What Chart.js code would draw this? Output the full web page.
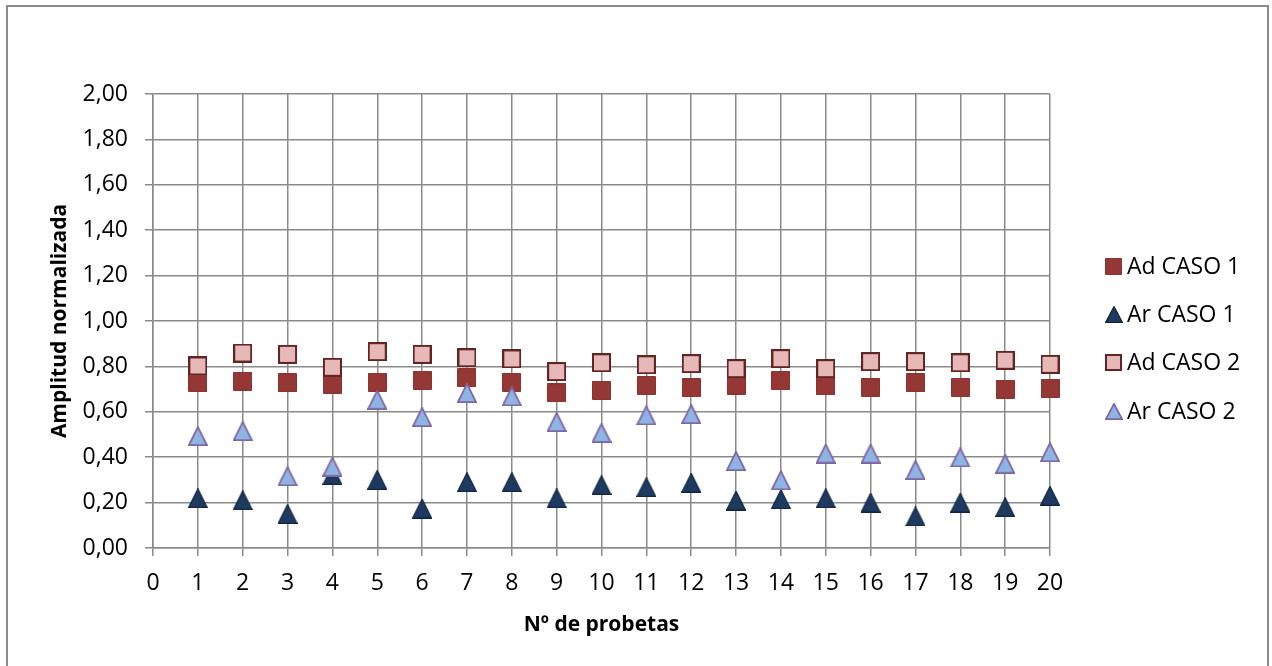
<!DOCTYPE html>
<html>
<head>
<meta charset="utf-8">
<title>Amplitud normalizada</title>
<script src="https://cdn.jsdelivr.net/npm/chart.js@4/dist/chart.umd.min.js"></script>
<style>
  html, body { margin: 0; padding: 0; background: #fff; }
  #wrap { width: 1272px; height: 666px; }
</style>
</head>
<body>
<div id="wrap"><canvas id="chart" width="1272" height="666"></canvas></div>
<script>
// Data
const probetas = [1, 2, 3, 4, 5, 6, 7, 8, 9, 10, 11, 12, 13, 14, 15, 16, 17, 18, 19, 20];
const adCaso1 = [0.730, 0.735, 0.727, 0.722, 0.731, 0.738, 0.749, 0.731, 0.683, 0.694,
                 0.716, 0.705, 0.718, 0.738, 0.714, 0.708, 0.727, 0.708, 0.700, 0.703];
const arCaso1 = [0.219, 0.210, 0.150, 0.321, 0.300, 0.174, 0.290, 0.290, 0.219, 0.277,
                 0.268, 0.287, 0.209, 0.215, 0.219, 0.200, 0.139, 0.200, 0.180, 0.230];
const adCaso2 = [0.802, 0.859, 0.853, 0.796, 0.865, 0.853, 0.838, 0.833, 0.777, 0.816,
                 0.807, 0.812, 0.790, 0.834, 0.790, 0.821, 0.821, 0.816, 0.827, 0.809];
const arCaso2 = [0.493, 0.515, 0.316, 0.358, 0.653, 0.577, 0.683, 0.668, 0.555, 0.507,
                 0.584, 0.590, 0.383, 0.298, 0.416, 0.416, 0.344, 0.399, 0.371, 0.422];
const seriesNames = ['Ad CASO 1', 'Ar CASO 1', 'Ad CASO 2', 'Ar CASO 2'];

const FONT = "'Open Sans', 'Noto Sans', sans-serif";
const GRID = '#8a8a8a';

// Excel-like marker images (centred on bounding box)
function makeMarker(shape, w, h, fill, stroke, lw) {
  const c = document.createElement('canvas');
  c.width = w; c.height = h;
  const g = c.getContext('2d');
  g.beginPath();
  const o = lw / 2;
  if (shape === 'square') {
    g.rect(o, o, w - lw, h - lw);
  } else {
    g.moveTo(w / 2, o);
    g.lineTo(w - o, h - o);
    g.lineTo(o, h - o);
    g.closePath();
  }
  g.fillStyle = fill;
  g.fill();
  if (lw > 0) { g.lineWidth = lw; g.strokeStyle = stroke; g.lineJoin = 'miter'; g.stroke(); }
  return c;
}

const markers = [
  makeMarker('square', 19, 19, '#953735', '#8c3230', 1),
  makeMarker('triangle', 20, 20, '#1f3a60', '#10243f', 1.2),
  makeMarker('square', 19, 19, '#e6b9b8', '#632523', 2),
  makeMarker('triangle', 20, 20, '#8eb4e3', '#8064a2', 1.8)
];
const legendMarkers = [
  makeMarker('square', 17, 17, '#953735', '#8c3230', 1),
  makeMarker('triangle', 18, 17, '#1f3a60', '#10243f', 1.2),
  makeMarker('square', 17, 17, '#e6b9b8', '#632523', 2),
  makeMarker('triangle', 18, 17, '#8eb4e3', '#8064a2', 1.8)
];

function pts(arr) { return probetas.map((x, i) => ({ x: x, y: arr[i] })); }

const framePlugin = {
  id: 'frame',
  beforeDraw(chart) {
    const ctx = chart.ctx;
    ctx.save();
    ctx.fillStyle = '#fff';
    ctx.fillRect(0, 0, chart.width, chart.height);
    ctx.strokeStyle = '#8c8c8c';
    ctx.lineWidth = 2;
    ctx.strokeRect(7, 6, 1261, 700);
    ctx.restore();
  }
};

// right-hand legend, Excel style
const legendPlugin = {
  id: 'xlLegend',
  afterDraw(chart) {
    const ctx = chart.ctx;
    ctx.save();
    ctx.font = '23px ' + FONT;
    ctx.fillStyle = '#000';
    ctx.textBaseline = 'alphabetic';
    const rows = [274, 322, 370, 419];
    seriesNames.forEach((name, i) => {
      const m = legendMarkers[i];
      ctx.drawImage(m, Math.round(1113.5 - m.width / 2), Math.round(rows[i] - 8 - m.height / 2));
      ctx.fillText(name, 1127, rows[i]);
    });
    ctx.restore();
  }
};

const datasets = [adCaso1, arCaso1, adCaso2, arCaso2].map((arr, i) => ({
  label: seriesNames[i],
  data: pts(arr),
  pointStyle: markers[i],
  pointRadius: 10,
  pointHoverRadius: 10,
  showLine: false,
  clip: false,
  order: 4 - i
}));

new Chart(document.getElementById('chart'), {
  type: 'scatter',
  data: { datasets: datasets },
  options: {
    responsive: false,
    animation: false,
    events: [],
    layout: { padding: { left: 0, right: 222, top: 94, bottom: 0 } },
    plugins: { legend: { display: false }, tooltip: { enabled: false } },
    scales: {
      x: {
        type: 'linear', min: 0, max: 20,
        afterFit(s) { s.height = 118; },
        ticks: { stepSize: 1, padding: 14, color: '#000', font: { family: FONT, size: 23 } },
        grid: { color: GRID, lineWidth: 1.5, tickLength: 8, drawTicks: true },
        border: { color: GRID, width: 1.5 },
        title: { display: true, text: 'Nº de probetas', color: '#000',
                 font: { family: FONT, size: 21, weight: 'bold' }, padding: { top: 0, bottom: 28 } }
      },
      y: {
        type: 'linear', min: 0, max: 2,
        afterFit(s) { s.width = 153; },
        ticks: { stepSize: 0.2, padding: 17, color: '#000', font: { family: FONT, size: 23 },
                 callback: v => v.toFixed(2).replace('.', ',') },
        grid: { color: GRID, lineWidth: 1.5, tickLength: 8, drawTicks: true },
        border: { color: GRID, width: 1.5 },
        title: { display: true, text: 'Amplitud normalizada', color: '#000',
                 font: { family: FONT, size: 21, weight: 'bold' }, padding: { top: 47, bottom: 0 } }
      }
    }
  },
  plugins: [framePlugin, legendPlugin]
});
</script>
</body>
</html>
